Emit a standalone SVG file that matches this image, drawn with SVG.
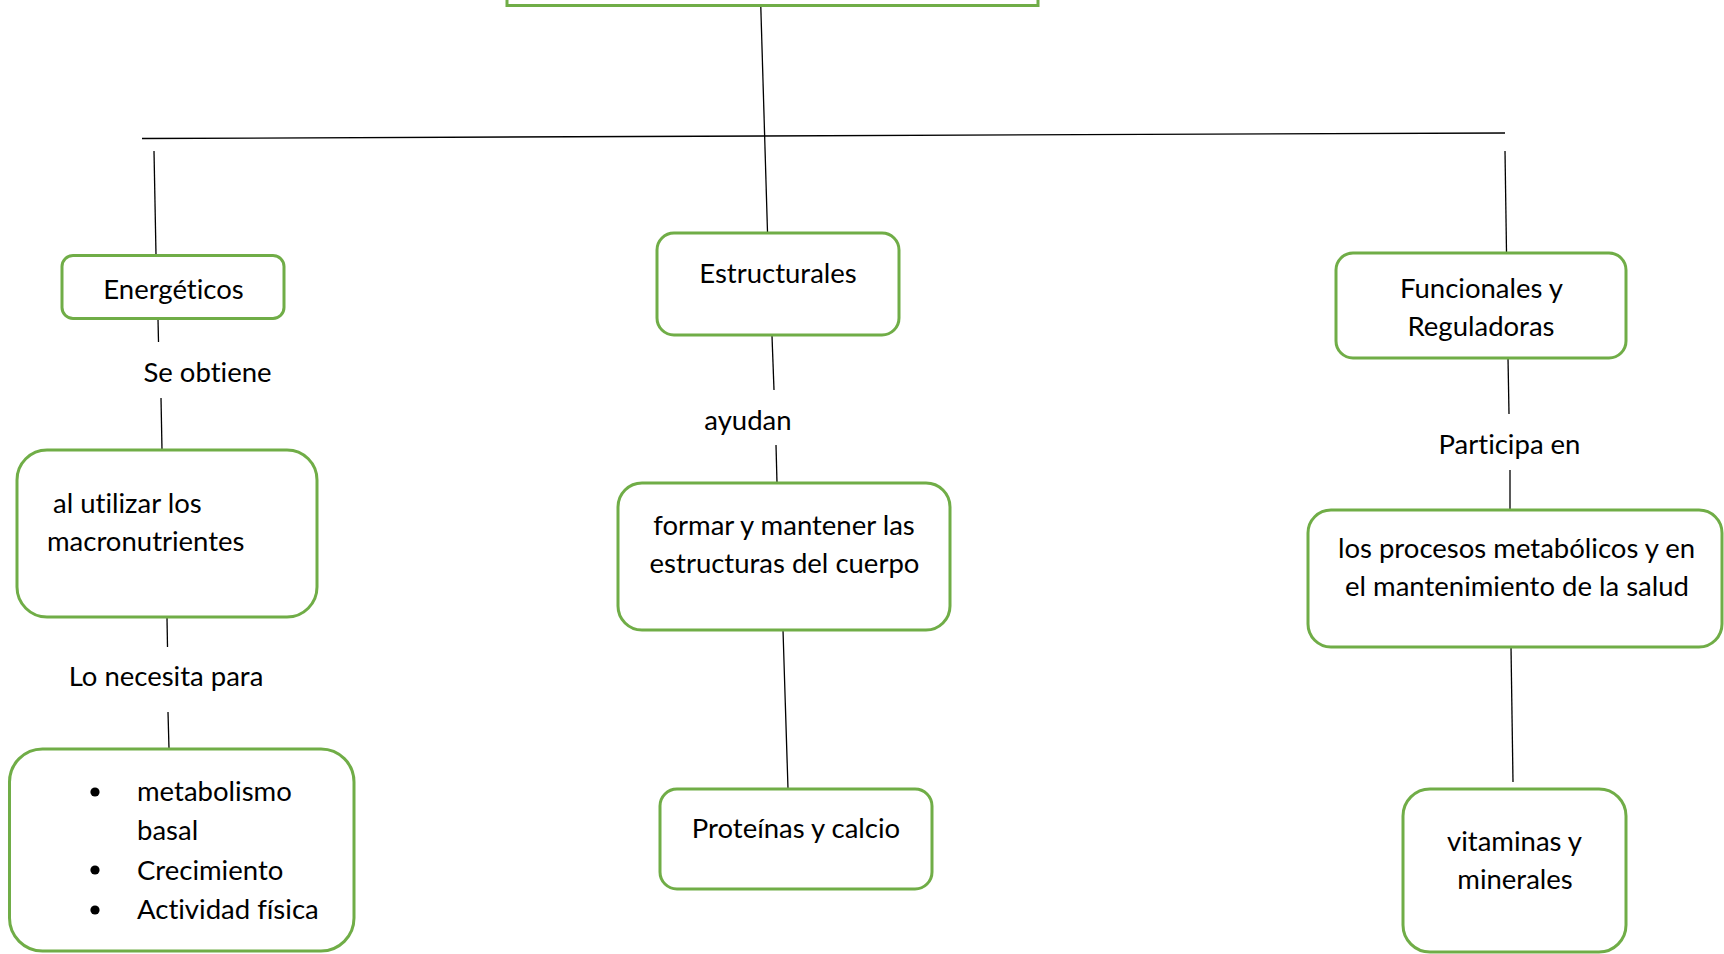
<svg xmlns="http://www.w3.org/2000/svg" width="1724" height="954" viewBox="0 0 1724 954">
  <style>
    .box { fill: #ffffff; stroke: #70AD47; stroke-width: 3; }
    .lbl { font-family: Lato, "Open Sans", "Liberation Sans", sans-serif; font-size: 27.5px; fill: #000000; font-variant-ligatures: none; }
    .mid { text-anchor: middle; }
    .conn line { stroke: #000000; stroke-width: 1.3; }
  </style>
  <rect width="1724" height="954" fill="#ffffff"/>

  <!-- connectors -->
  <g id="connectors" class="conn">
    <line x1="760.8" y1="7" x2="767.5" y2="232"/>
    <line x1="142" y1="138.5" x2="1505" y2="133"/>
    <line x1="154" y1="151" x2="156" y2="255"/>
    <line x1="1505" y1="151" x2="1506.5" y2="252"/>
    <line x1="158" y1="319" x2="158.5" y2="342"/>
    <line x1="161" y1="398" x2="162" y2="450"/>
    <line x1="167" y1="618" x2="167.5" y2="647"/>
    <line x1="168" y1="712" x2="169" y2="749"/>
    <line x1="772" y1="336" x2="774" y2="390"/>
    <line x1="776" y1="445" x2="777" y2="483"/>
    <line x1="783" y1="630" x2="788" y2="789"/>
    <line x1="1508" y1="358" x2="1509" y2="414"/>
    <line x1="1510" y1="470" x2="1510" y2="510"/>
    <line x1="1511" y1="647" x2="1513" y2="782"/>
  </g>

  <!-- title box, cut by the top edge -->
  <g id="n-top">
    <rect class="box" x="507" y="-30" width="531" height="35.5" stroke-width="3.5"/>
  </g>

  <g id="n-energeticos">
    <rect class="box" x="62" y="255.5" width="222" height="63" rx="11"/>
    <text class="lbl mid" x="173.5" y="299">Energéticos</text>
  </g>
  <g id="l-se-obtiene">
    <text class="lbl mid" x="207.5" y="382">Se obtiene</text>
  </g>
  <g id="n-macronutrientes">
    <rect class="box" x="17" y="450" width="300" height="167" rx="30"/>
    <text class="lbl" x="53" y="513">al utilizar los</text>
    <text class="lbl" x="47" y="551">macronutrientes</text>
  </g>
  <g id="l-lo-necesita">
    <text class="lbl mid" x="166" y="686">Lo necesita para</text>
  </g>
  <g id="n-usos">
    <rect class="box" x="9.5" y="749" width="344.5" height="202" rx="33"/>
    <circle cx="95" cy="792" r="4.6"/>
    <circle cx="95" cy="870" r="4.6"/>
    <circle cx="95" cy="910" r="4.6"/>
    <text class="lbl" x="137" y="801">metabolismo</text>
    <text class="lbl" x="137" y="840">basal</text>
    <text class="lbl" x="137" y="880">Crecimiento</text>
    <text class="lbl" x="137" y="919">Actividad física</text>
  </g>

  <g id="n-estructurales">
    <rect class="box" x="657" y="233" width="242" height="102" rx="17"/>
    <text class="lbl mid" x="778" y="283">Estructurales</text>
  </g>
  <g id="l-ayudan">
    <text class="lbl mid" x="748" y="430">ayudan</text>
  </g>
  <g id="n-formar">
    <rect class="box" x="618" y="483" width="332" height="147" rx="24"/>
    <text class="lbl mid" x="784" y="535">formar y mantener las</text>
    <text class="lbl mid" x="784.5" y="573">estructuras del cuerpo</text>
  </g>
  <g id="n-proteinas">
    <rect class="box" x="660" y="789" width="272" height="100" rx="17"/>
    <text class="lbl mid" x="796" y="838">Proteínas y calcio</text>
  </g>

  <g id="n-funcionales">
    <rect class="box" x="1336" y="253" width="290" height="105" rx="17"/>
    <text class="lbl mid" x="1481.5" y="298">Funcionales y</text>
    <text class="lbl mid" x="1481" y="336">Reguladoras</text>
  </g>
  <g id="l-participa">
    <text class="lbl mid" x="1509.5" y="454">Participa en</text>
  </g>
  <g id="n-procesos">
    <rect class="box" x="1308" y="510" width="414" height="137" rx="23"/>
    <text class="lbl mid" x="1516.5" y="558">los procesos metabólicos y en</text>
    <text class="lbl mid" x="1517" y="596">el mantenimiento de la salud</text>
  </g>
  <g id="n-vitaminas">
    <rect class="box" x="1403" y="789" width="223" height="163" rx="27"/>
    <text class="lbl mid" x="1514.5" y="851">vitaminas y</text>
    <text class="lbl mid" x="1515" y="889">minerales</text>
  </g>
</svg>
